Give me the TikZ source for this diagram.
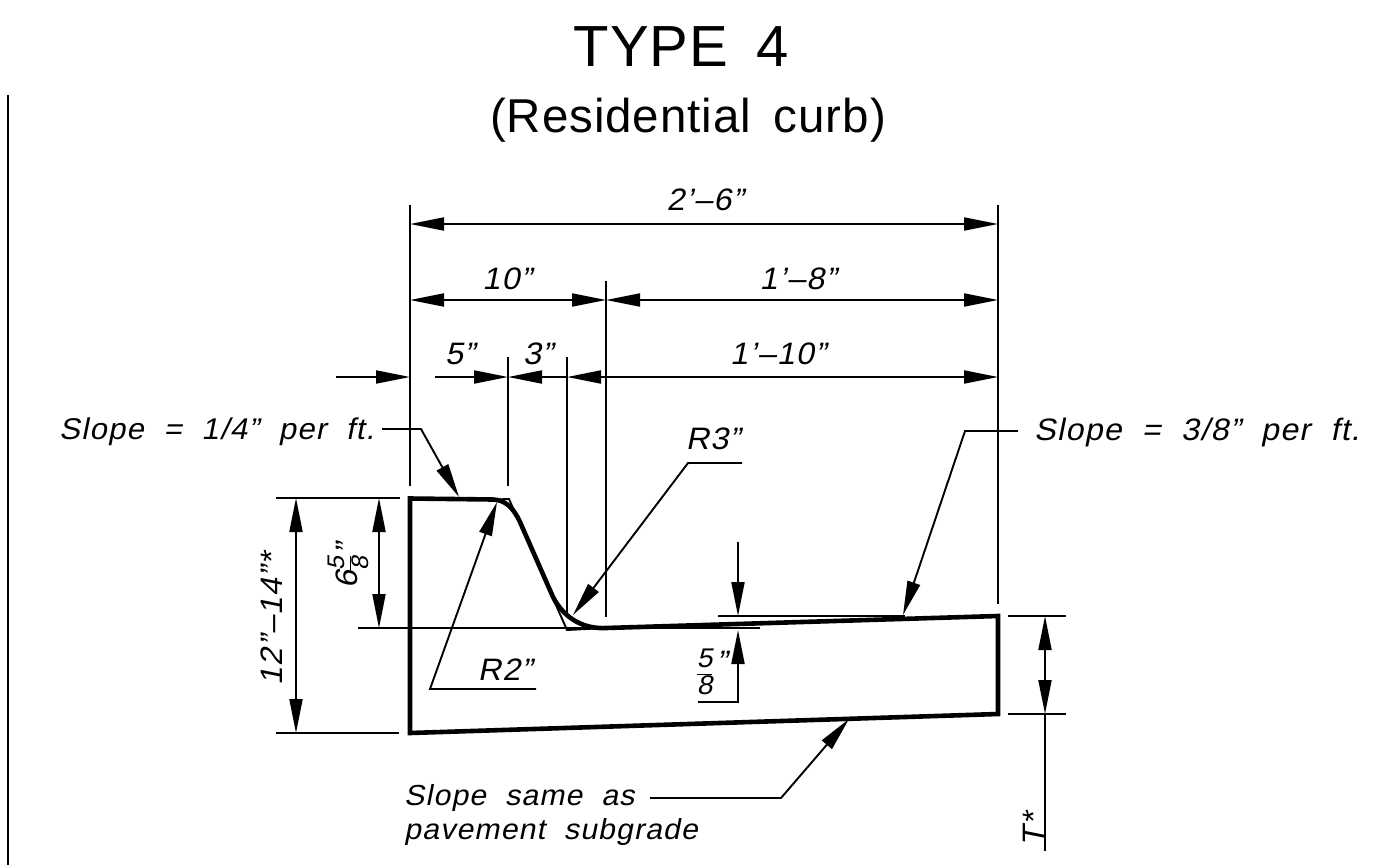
\documentclass[tikz,border=0pt]{standalone}
\usepackage{fontspec}
\usetikzlibrary{arrows.meta}
\setmainfont[WordSpace=1.6,LetterSpace=2]{Liberation Sans}
\newfontfamily\slfont[FakeSlant=0.2,FakeStretch=1.04,WordSpace=2,LetterSpace=4]{Liberation Sans}
\newcommand{\stk}[3]{{\fontsize{#1}{#1}\selectfont\renewcommand{\arraystretch}{0.78}\setlength{\tabcolsep}{0pt}\begin{tabular}[c]{@{}c@{}}#2\\\hline\noalign{\vskip 1.5pt}#3\end{tabular}}}
\tikzset{
  thinline/.style={line width=1.9pt},
  thickline/.style={line width=4.6pt,line join=miter},
  dim/.style={thinline,{Triangle[length=34pt,width=13pt]}-{Triangle[length=34pt,width=13pt]}},
  arr/.style={thinline,-{Triangle[length=34pt,width=13pt]}},
  lab/.style={font=\slfont\fontsize{31}{36}\selectfont,inner sep=0pt,align=left},
  ttl/.style={inner sep=0pt}
}
\begin{document}
\begin{tikzpicture}[x=1pt,y=-1pt]
\useasboundingbox (0,0) rectangle (1383,865);
% frame line
\coordinate (b1) at (8,95); \coordinate (b2) at (8,865);
\draw[thinline] (b1) -- (b2);
% curb corners
\coordinate (tl) at (410,498.5); \coordinate (f1) at (493,499.5);
\coordinate (f2) at (520,522); \coordinate (f3) at (553,597);
\coordinate (f4) at (606,628); \coordinate (tr) at (998,616);
\coordinate (br) at (998,714); \coordinate (bl) at (410,733);
\coordinate (s1) at (509,499); \coordinate (s2) at (567,630);
% extension line ends
\coordinate (e1a) at (410,205); \coordinate (e1b) at (410,486);
\coordinate (e2a) at (998,205); \coordinate (e2b) at (998,604);
\coordinate (e3a) at (606,281); \coordinate (e3b) at (606,617);
\coordinate (e4a) at (508,357); \coordinate (e4b) at (508,486);
\coordinate (e5a) at (567,357); \coordinate (e5b) at (567,616);
\coordinate (h1a) at (276,498); \coordinate (h1b) at (400,498);
\coordinate (h2a) at (358,628); \coordinate (h2b) at (760,628);
\coordinate (h3a) at (276,733); \coordinate (h3b) at (399,733);
\coordinate (h4a) at (718,616); \coordinate (h4b) at (905,616);
\coordinate (h5a) at (1008,616); \coordinate (h5b) at (1066,616);
\coordinate (h6a) at (1008,714); \coordinate (h6b) at (1066,714);
\coordinate (h7a) at (698,702);
% curb
\draw[thickline] (tl) -- (f1) .. controls (505,500) and (513,507) .. (f2) -- (f3)
  .. controls (565,620) and (585,629) .. (f4) -- (tr) -- (br) -- (bl) -- cycle;
\draw[thinline] (f1) -- (s1) -- (s2) -- (f4);
% extension lines
\foreach \n in {e1,e2,e3,e4,e5} \draw[thinline] (\n a) -- (\n b);
\foreach \n in {h1,h2,h3,h4,h5,h6} \draw[thinline] (\n a) -- (\n b);
% horizontal dimensions
\draw[dim] (410,224) coordinate (d1) -- (998,224) coordinate (d2);
\draw[dim] (410,300) coordinate (d3) -- (606,300) coordinate (d4);
\draw[dim] (606,300) -- (998,300) coordinate (d5);
\coordinate (c0) at (336,377); \coordinate (c1) at (410,377);
\coordinate (c2) at (435,377); \coordinate (c3) at (508,377);
\coordinate (c4) at (567,377); \coordinate (c5) at (606,377);
\coordinate (c6) at (998,377);
\draw[arr] (c0) -- (c1);
\draw[arr] (c2) -- (c3);
\draw[arr] (c4) -- (c3);
\draw[arr] (c5) -- (c4);
\draw[arr] (c5) -- (c6);
% vertical dimensions
\coordinate (v1) at (296,498); \coordinate (v2) at (296,733);
\coordinate (v3) at (379,498); \coordinate (v4) at (379,628);
\coordinate (v5) at (1045,616); \coordinate (v6) at (1045,714);
\coordinate (v7) at (1045,851);
\coordinate (v8) at (738,542); \coordinate (v9) at (738,616);
\coordinate (v10) at (738,702); \coordinate (v11) at (738,630);
\draw[dim] (v1) -- (v2);
\draw[dim] (v3) -- (v4);
\draw[dim] (v5) -- (v6);
\draw[thinline] (v6) -- (v7);
\draw[arr] (v8) -- (v9);
\draw[arr] (h7a) -- (v10) -- (v11);
% leaders
\coordinate (l1a) at (382,429); \coordinate (l1b) at (421,429); \coordinate (l1c) at (459,497);
\coordinate (l2a) at (742,463); \coordinate (l2b) at (688,463); \coordinate (l2c) at (573,615);
\coordinate (l3a) at (536,689); \coordinate (l3b) at (430,689); \coordinate (l3c) at (497,502);
\coordinate (l4a) at (1018,431); \coordinate (l4b) at (965,431); \coordinate (l4c) at (903,615);
\coordinate (l5a) at (650,798); \coordinate (l5b) at (781,798); \coordinate (l5c) at (849,719);
\foreach \n in {l1,l2,l3,l4,l5} \draw[arr] (\n a) -- (\n b) -- (\n c);
% titles
\node[ttl,font=\fontsize{58}{60}\selectfont] (t1) at (681,47) {TYPE 4};
\node[ttl,font=\fontsize{47.5}{50}\selectfont] (t2) at (688,120) {(Residential curb)};
% labels
\node[lab] (a1) at (705,200) {2’–6”};
\node[lab] (a2) at (507,279) {10”};
\node[lab] (a3) at (798,279) {1’–8”};
\node[lab] (a4) at (460,354) {5”};
\node[lab] (a5) at (538,354) {3”};
\node[lab] (a6) at (778,354) {1’–10”};
\node[lab,anchor=west,font=\slfont\fontsize{30}{36}\selectfont] (a7) at (59,432) {Slope = 1/4” per ft.};
\node[lab,anchor=west] (a8) at (1034,432) {Slope = 3/8” per ft.};
\node[lab] (a9) at (713,439) {R3”};
\node[lab] (a10) at (505,670) {R2”};
\node[lab,rotate=90] (a11) at (272,619) {12”–14”*};
\node[lab,rotate=90,font=\slfont\fontsize{31}{36}\selectfont] (a12) at (351,566) {6\stk{24}{5}{8}\hspace{2pt}”};
\node[lab] (a13) at (712,675) {\stk{27}{5}{8}\hspace{4pt}\raisebox{9pt}{”}};
\node[lab,anchor=north west,font=\slfont\fontsize{29}{34.5}\selectfont] (a14) at (404,784) {Slope same as\\pavement subgrade};
\node[lab,rotate=90] (a15) at (1034,830) {T*};
\end{tikzpicture}
\end{document}
